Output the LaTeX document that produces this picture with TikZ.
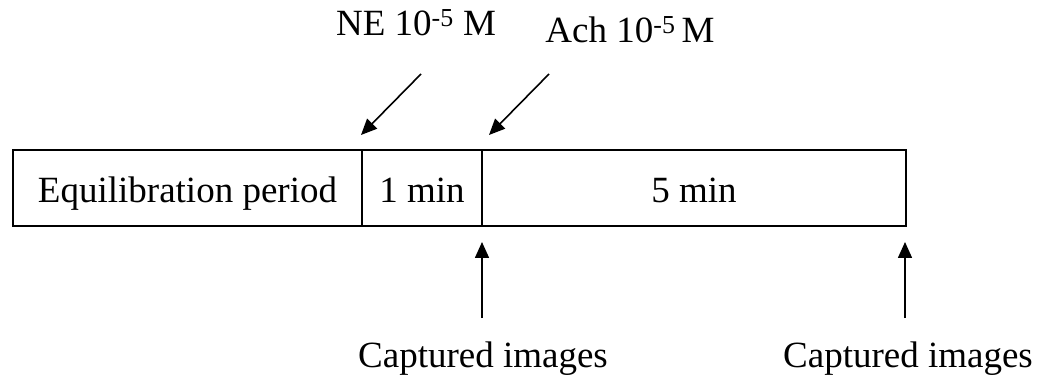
\documentclass[tikz,border=0pt]{standalone}
\usepackage{fontspec}
\setmainfont{Liberation Serif}
\usetikzlibrary{positioning,arrows.meta}

\tikzset{
  cell/.style={draw, line width=1.5pt, minimum height=76pt, inner sep=0pt, outer sep=0pt, text height=31pt, text depth=1pt},
  arr/.style={line width=1.6pt, -{Triangle[length=16pt,width=14pt]}},
}

\begin{document}
\begin{tikzpicture}[x=1pt, y=1pt, font=\fontsize{37}{44}\selectfont]
\useasboundingbox (0,0) rectangle (1042,378);

% the three periods
\node[cell, minimum width=349pt] (equil) at (187.5,190) {Equilibration period};
\node[cell, minimum width=120pt, right=0pt of equil] (onemin) {1 min};
\node[cell, minimum width=424pt, right=0pt of onemin] (fivemin) {5 min};

% additions
\node[anchor=base] (ne) at (416,342) {NE 10\textsuperscript{-5} M};
\node[anchor=base] (ach) at (630,335) {Ach 10\textsuperscript{-5}\,M};
\coordinate (neTail) at (421,304);
\coordinate (neTip) at (361,243);
\coordinate (achTail) at (549,304);
\coordinate (achTip) at (489,243);
\draw[arr] (neTail) -- (neTip);
\draw[arr] (achTail) -- (achTip);

% image capture
\node[anchor=base] (capA) at (483,11) {Captured images};
\node[anchor=base] (capB) at (908,11) {Captured images};
\coordinate (capATail) at (482,60);
\coordinate (capATip) at (482,136);
\coordinate (capBTail) at (905,60);
\coordinate (capBTip) at (905,136);
\draw[arr] (capATail) -- (capATip);
\draw[arr] (capBTail) -- (capBTip);
\end{tikzpicture}
\end{document}
